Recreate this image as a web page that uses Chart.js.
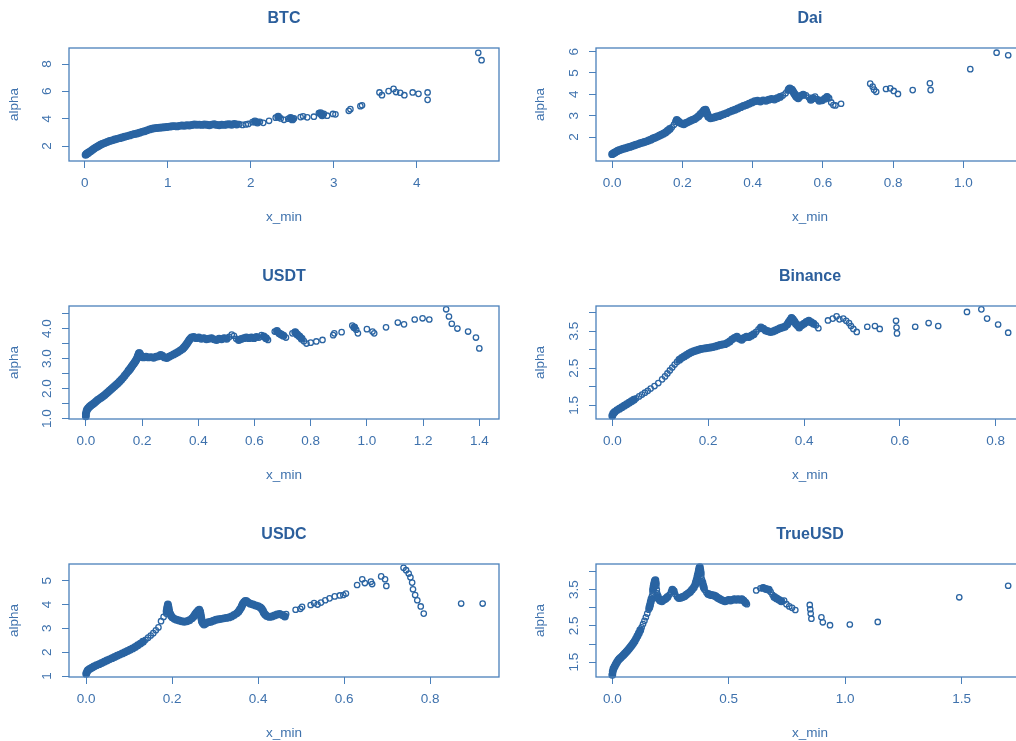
<!DOCTYPE html>
<html>
<head>
<meta charset="utf-8">
<title>alpha vs x_min</title>
<script src="https://cdn.jsdelivr.net/npm/chart.js@4.4.1/dist/chart.umd.min.js"></script>
<style>
  html, body { margin: 0; padding: 0; background: #fff; overflow: hidden; }
  #page { position: relative; width: 1016px; height: 741px; overflow: hidden; }
  #page canvas { position: absolute; }
</style>
</head>
<body>
<div id="page"></div>
<script>
// ---- data: [x_min, alpha] ----
const btcPoints = [
  [0.01,1.36],[0.02,1.42],[0.03,1.46],[0.04,1.50],[0.05,1.55],[0.07,1.63],[0.09,1.72],[0.11,1.80],
  [0.13,1.89],[0.15,1.96],[0.17,2.03],[0.19,2.10],[0.21,2.16],[0.24,2.23],[0.27,2.30],[0.30,2.37],
  [0.33,2.42],[0.36,2.48],[0.39,2.53],[0.42,2.58],[0.45,2.63],[0.48,2.68],[0.51,2.73],[0.54,2.78],
  [0.57,2.84],[0.60,2.88],[0.63,2.92],[0.66,2.97],[0.69,3.04],[0.72,3.09],[0.75,3.15],[0.78,3.22],
  [0.81,3.27],[0.84,3.30],[0.87,3.32],[0.90,3.34],[0.93,3.36],[0.96,3.38],[0.99,3.40],[1.02,3.42],
  [1.05,3.45],[1.08,3.46],[1.11,3.44],[1.14,3.48],[1.17,3.50],[1.20,3.49],[1.23,3.52],[1.26,3.50],
  [1.29,3.54],[1.32,3.58],[1.35,3.56],[1.38,3.57],[1.41,3.55],[1.44,3.58],[1.47,3.56],[1.50,3.52],
  [1.53,3.57],[1.56,3.60],[1.59,3.55],[1.62,3.52],[1.65,3.57],[1.68,3.55],[1.71,3.58],[1.74,3.60],
  [1.77,3.56],[1.80,3.62],[1.83,3.58],[1.86,3.60],[1.90,3.55],[1.94,3.58],[1.97,3.62],[2.02,3.75],
  [2.05,3.80],[2.08,3.72],[2.11,3.78],[2.15,3.70],[2.22,3.85],[2.30,4.08],[2.33,4.15],[2.36,4.02],
  [2.40,3.92],[2.45,4.00],[2.48,4.05],[2.50,3.95],[2.52,4.02],[2.60,4.12],[2.63,4.18],[2.68,4.10],
  [2.76,4.15],[2.82,4.42],[2.84,4.40],[2.86,4.25],[2.88,4.35],[2.92,4.22],[2.99,4.35],[3.02,4.32],
  [3.18,4.58],[3.20,4.70],[3.32,4.92],[3.34,4.98],[3.55,5.92],[3.58,5.72],[3.66,6.02],[3.72,6.18],
  [3.75,5.95],[3.80,5.90],[3.85,5.72],[3.95,5.92],[4.02,5.82],[4.13,5.92],[4.13,5.38],[4.74,8.82],
  [4.78,8.28]
];
const daiPoints = [
  [0.000,1.20],[0.004,1.24],[0.008,1.28],[0.012,1.32],[0.016,1.36],[0.020,1.38],[0.026,1.42],[0.032,1.45],
  [0.038,1.48],[0.044,1.51],[0.050,1.54],[0.056,1.57],[0.062,1.61],[0.068,1.64],[0.074,1.67],[0.080,1.71],
  [0.086,1.74],[0.092,1.77],[0.098,1.80],[0.104,1.84],[0.110,1.88],[0.116,1.93],[0.122,1.97],[0.128,2.01],
  [0.134,2.06],[0.140,2.11],[0.146,2.16],[0.152,2.22],[0.158,2.30],[0.164,2.38],[0.170,2.46],[0.176,2.58],
  [0.180,2.72],[0.184,2.80],[0.188,2.74],[0.192,2.68],[0.198,2.63],[0.204,2.60],[0.210,2.66],[0.216,2.70],
  [0.222,2.75],[0.228,2.80],[0.234,2.84],[0.240,2.90],[0.246,2.98],[0.252,3.08],[0.258,3.18],[0.262,3.26],
  [0.266,3.28],[0.268,3.20],[0.270,3.12],[0.272,3.04],[0.274,2.95],[0.280,2.88],[0.286,2.90],[0.292,2.93],
  [0.298,2.96],[0.304,2.98],[0.310,3.02],[0.318,3.07],[0.326,3.12],[0.334,3.18],[0.342,3.23],[0.350,3.28],
  [0.358,3.34],[0.366,3.40],[0.374,3.46],[0.382,3.50],[0.390,3.56],[0.398,3.62],[0.406,3.68],[0.414,3.70],
  [0.422,3.66],[0.430,3.72],[0.438,3.70],[0.446,3.75],[0.454,3.78],[0.462,3.76],[0.470,3.82],[0.478,3.88],
  [0.486,3.95],[0.494,4.05],[0.500,4.18],[0.503,4.23],[0.506,4.28],[0.512,4.22],[0.515,4.14],[0.518,4.05],
  [0.521,3.98],[0.524,3.90],[0.527,3.86],[0.530,3.82],[0.536,3.92],[0.544,3.98],[0.552,3.95],[0.560,3.85],
  [0.566,3.75],[0.572,3.82],[0.578,3.90],[0.584,3.78],[0.590,3.70],[0.598,3.72],[0.606,3.80],[0.612,3.88],
  [0.618,3.82],[0.624,3.62],[0.630,3.50],[0.636,3.48],[0.652,3.56],
  [0.735,4.50],[0.742,4.36],[0.746,4.22],[0.752,4.12],[0.780,4.25],[0.792,4.28],[0.802,4.16],[0.814,4.02],
  [0.856,4.20],[0.905,4.52],[0.907,4.20],[1.020,5.18],[1.095,5.95],[1.128,5.83]
];
const usdtPoints = [
  [0.000,1.08],[0.000,1.16],[0.002,1.24],[0.004,1.30],[0.008,1.35],[0.013,1.40],[0.018,1.44],[0.024,1.48],
  [0.030,1.52],[0.036,1.57],[0.042,1.62],[0.048,1.66],[0.054,1.70],[0.060,1.74],[0.066,1.78],[0.072,1.83],
  [0.078,1.88],[0.084,1.93],[0.090,1.98],[0.096,2.03],[0.102,2.08],[0.108,2.13],[0.114,2.18],[0.120,2.24],
  [0.126,2.30],[0.132,2.36],[0.138,2.43],[0.144,2.50],[0.150,2.57],[0.153,2.61],[0.156,2.64],[0.159,2.68],
  [0.162,2.72],[0.165,2.76],[0.168,2.80],[0.171,2.84],[0.174,2.88],[0.177,2.92],[0.180,2.97],[0.183,3.03],
  [0.185,3.08],[0.187,3.13],[0.189,3.18],[0.191,3.18],[0.193,3.14],[0.196,3.09],[0.199,3.05],[0.205,3.04],
  [0.214,3.06],[0.223,3.04],[0.232,3.05],[0.241,3.03],[0.250,3.06],[0.259,3.08],[0.266,3.12],[0.272,3.10],
  [0.280,3.04],[0.288,3.02],[0.296,3.06],[0.304,3.10],[0.312,3.14],[0.320,3.18],[0.328,3.22],[0.336,3.27],
  [0.344,3.32],[0.348,3.36],[0.352,3.40],[0.356,3.45],[0.360,3.50],[0.364,3.56],[0.368,3.62],[0.372,3.66],
  [0.376,3.70],[0.384,3.72],[0.393,3.68],[0.402,3.70],[0.411,3.66],[0.420,3.68],[0.429,3.64],[0.438,3.66],
  [0.447,3.68],[0.456,3.64],[0.465,3.62],[0.474,3.66],[0.483,3.64],[0.492,3.68],[0.501,3.66],[0.510,3.72],
  [0.519,3.80],[0.527,3.76],[0.535,3.66],[0.544,3.62],[0.553,3.65],[0.562,3.68],[0.571,3.70],[0.580,3.68],
  [0.589,3.70],[0.598,3.68],[0.607,3.72],[0.616,3.70],[0.625,3.78],[0.633,3.74],[0.641,3.68],[0.648,3.62],
  [0.672,3.90],[0.680,3.92],[0.688,3.84],[0.695,3.80],[0.703,3.76],[0.712,3.70],[0.735,3.84],[0.745,3.88],
  [0.752,3.80],[0.760,3.74],[0.768,3.66],[0.776,3.58],[0.785,3.50],[0.800,3.53],[0.820,3.57],[0.842,3.62],
  [0.880,3.78],[0.884,3.84],[0.910,3.88],[0.948,4.10],[0.955,4.04],[0.962,3.96],[0.968,3.84],[1.000,3.98],
  [1.020,3.90],[1.026,3.84],[1.068,4.04],[1.110,4.20],[1.132,4.14],[1.170,4.30],[1.198,4.34],[1.222,4.30],
  [1.282,4.64],[1.292,4.40],[1.302,4.16],[1.322,4.00],[1.360,3.90],[1.388,3.70],[1.400,3.34]
];
const binancePoints = [
  [0.000,1.22],[0.002,1.28],[0.005,1.32],[0.010,1.37],[0.015,1.41],[0.020,1.45],[0.025,1.49],[0.030,1.53],
  [0.035,1.57],[0.040,1.61],[0.045,1.65],[0.050,1.69],[0.056,1.74],[0.062,1.79],[0.068,1.84],[0.074,1.89],
  [0.080,1.95],[0.088,2.02],[0.096,2.10],[0.104,2.20],[0.110,2.28],[0.115,2.36],[0.120,2.44],[0.125,2.52],
  [0.130,2.60],[0.135,2.67],[0.140,2.73],[0.145,2.78],[0.150,2.82],[0.155,2.86],[0.160,2.90],[0.165,2.93],
  [0.170,2.96],[0.175,2.98],[0.180,3.00],[0.185,3.02],[0.190,3.03],[0.195,3.04],[0.200,3.05],[0.205,3.06],
  [0.210,3.07],[0.215,3.09],[0.220,3.11],[0.225,3.13],[0.230,3.14],[0.235,3.15],[0.240,3.18],[0.245,3.22],
  [0.250,3.28],[0.255,3.32],[0.260,3.35],[0.265,3.30],[0.270,3.27],[0.275,3.32],[0.280,3.35],[0.285,3.34],
  [0.290,3.38],[0.295,3.42],[0.300,3.48],[0.305,3.55],[0.310,3.60],[0.315,3.57],[0.320,3.52],[0.325,3.50],
  [0.330,3.48],[0.335,3.49],[0.340,3.52],[0.345,3.55],[0.350,3.58],[0.355,3.60],[0.360,3.62],[0.365,3.68],
  [0.368,3.74],[0.371,3.80],[0.374,3.86],[0.377,3.82],[0.380,3.76],[0.383,3.70],[0.386,3.66],[0.390,3.60],
  [0.395,3.66],[0.400,3.70],[0.405,3.75],[0.410,3.78],[0.415,3.74],[0.420,3.70],[0.425,3.66],[0.430,3.58],
  [0.450,3.79],[0.460,3.84],[0.468,3.90],[0.474,3.82],[0.482,3.84],[0.488,3.78],[0.494,3.72],[0.498,3.64],
  [0.503,3.56],[0.510,3.48],[0.532,3.62],[0.548,3.64],[0.558,3.56],[0.592,3.78],[0.593,3.60],[0.594,3.44],
  [0.632,3.62],[0.660,3.72],[0.680,3.64],[0.740,4.02],[0.770,4.09],[0.782,3.84],[0.805,3.68],[0.826,3.46]
];
const usdcPoints = [
  [0.000,1.10],[0.002,1.18],[0.004,1.25],[0.008,1.30],[0.013,1.35],[0.018,1.40],[0.024,1.45],[0.030,1.50],
  [0.036,1.55],[0.042,1.60],[0.048,1.65],[0.054,1.70],[0.060,1.75],[0.066,1.80],[0.072,1.85],[0.078,1.90],
  [0.084,1.95],[0.090,2.00],[0.096,2.05],[0.102,2.10],[0.108,2.16],[0.114,2.22],[0.120,2.29],[0.126,2.36],
  [0.132,2.44],[0.138,2.52],[0.144,2.61],[0.150,2.70],[0.156,2.80],[0.162,2.92],[0.168,3.04],[0.174,3.30],
  [0.180,3.48],[0.186,3.62],[0.187,3.72],[0.188,3.82],[0.189,3.92],[0.190,4.00],[0.191,3.92],[0.192,3.82],
  [0.193,3.72],[0.195,3.62],[0.197,3.54],[0.200,3.47],[0.205,3.40],[0.210,3.36],[0.216,3.33],[0.222,3.30],
  [0.228,3.28],[0.234,3.30],[0.240,3.34],[0.246,3.42],[0.250,3.50],[0.253,3.58],[0.256,3.66],[0.260,3.74],
  [0.263,3.78],[0.265,3.70],[0.266,3.60],[0.267,3.50],[0.268,3.40],[0.269,3.30],[0.271,3.22],[0.274,3.16],
  [0.278,3.20],[0.284,3.26],[0.290,3.28],[0.296,3.32],[0.302,3.36],[0.308,3.38],[0.314,3.40],[0.320,3.42],
  [0.326,3.44],[0.332,3.46],[0.338,3.50],[0.344,3.56],[0.350,3.63],[0.354,3.70],[0.357,3.78],[0.360,3.86],
  [0.362,3.94],[0.364,4.02],[0.367,4.10],[0.370,4.15],[0.373,4.14],[0.377,4.08],[0.382,4.03],[0.388,4.00],
  [0.394,3.96],[0.400,3.93],[0.405,3.88],[0.408,3.82],[0.411,3.74],[0.413,3.66],[0.416,3.58],[0.420,3.52],
  [0.426,3.48],[0.432,3.50],[0.438,3.54],[0.444,3.58],[0.450,3.60],[0.456,3.56],[0.462,3.50],[0.465,3.60],
  [0.487,3.78],[0.498,3.82],[0.502,3.90],[0.522,3.98],[0.530,4.06],[0.538,4.00],[0.546,4.08],[0.556,4.18],
  [0.566,4.26],[0.578,4.34],[0.590,4.38],[0.598,4.40],[0.604,4.46],[0.630,4.82],[0.642,5.06],[0.648,4.90],
  [0.662,4.96],[0.665,4.86],[0.686,5.18],[0.695,5.06],[0.698,4.78],[0.738,5.54],[0.744,5.44],[0.750,5.30],
  [0.754,5.14],[0.758,4.92],[0.760,4.64],[0.765,4.40],[0.770,4.18],[0.778,3.92],[0.785,3.62],[0.872,4.04],
  [0.922,4.04]
];
const trueusdPoints = [
  [0.000,1.15],[0.002,1.24],[0.005,1.32],[0.010,1.38],[0.015,1.44],[0.020,1.50],[0.025,1.55],[0.030,1.59],
  [0.036,1.62],[0.042,1.66],[0.048,1.70],[0.054,1.74],[0.060,1.78],[0.066,1.82],[0.072,1.87],[0.078,1.92],
  [0.084,1.97],[0.090,2.02],[0.096,2.08],[0.102,2.15],[0.108,2.22],[0.114,2.30],[0.120,2.38],[0.126,2.46],
  [0.132,2.55],[0.138,2.64],[0.144,2.74],[0.150,2.84],[0.156,2.95],[0.159,3.01],[0.162,3.08],[0.165,3.16],
  [0.168,3.24],[0.170,3.32],[0.173,3.42],[0.175,3.50],[0.177,3.58],[0.179,3.64],[0.181,3.70],[0.183,3.74],
  [0.185,3.76],[0.187,3.68],[0.189,3.60],[0.191,3.50],[0.193,3.40],[0.195,3.32],[0.198,3.26],[0.205,3.20],
  [0.213,3.18],[0.221,3.22],[0.229,3.25],[0.237,3.30],[0.245,3.36],[0.252,3.44],[0.258,3.50],[0.264,3.46],
  [0.270,3.38],[0.278,3.30],[0.286,3.27],[0.294,3.28],[0.302,3.30],[0.310,3.32],[0.318,3.36],[0.326,3.40],
  [0.334,3.44],[0.342,3.50],[0.350,3.56],[0.356,3.64],[0.359,3.70],[0.362,3.76],[0.365,3.84],[0.367,3.90],
  [0.370,3.98],[0.372,4.04],[0.374,4.10],[0.376,4.12],[0.378,4.04],[0.380,3.96],[0.382,3.88],[0.385,3.78],
  [0.387,3.70],[0.390,3.62],[0.393,3.56],[0.396,3.50],[0.404,3.42],[0.412,3.38],[0.420,3.36],[0.428,3.35],
  [0.436,3.34],[0.444,3.32],[0.452,3.28],[0.460,3.25],[0.468,3.22],[0.476,3.20],[0.484,3.18],[0.492,3.20],
  [0.500,3.22],[0.508,3.20],[0.516,3.22],[0.524,3.24],[0.532,3.22],[0.540,3.24],[0.548,3.22],[0.556,3.24],
  [0.564,3.20],[0.572,3.14],[0.578,3.10],
  [0.618,3.48],[0.636,3.54],[0.648,3.55],[0.660,3.52],[0.672,3.50],[0.680,3.44],[0.688,3.36],[0.696,3.30],
  [0.706,3.26],[0.716,3.22],[0.726,3.18],[0.738,3.20],[0.748,3.10],[0.760,3.04],[0.772,3.00],[0.786,2.94],
  [0.848,3.08],[0.850,2.96],[0.852,2.84],[0.855,2.70],[0.898,2.74],[0.904,2.60],[0.935,2.52],[1.020,2.54],
  [1.140,2.61],[1.490,3.29],[1.700,3.61]
];

// ---- tick values and labels ----
const btcXTicks = [0, 1, 2, 3, 4];
const btcXLabels = ['0', '1', '2', '3', '4'];
const btcYTicks = [2, 4, 6, 8];
const btcYLabels = ['2', '4', '6', '8'];
const daiXTicks = [0, 0.2, 0.4, 0.6, 0.8, 1.0];
const daiXLabels = ['0.0', '0.2', '0.4', '0.6', '0.8', '1.0'];
const daiYTicks = [2, 3, 4, 5, 6];
const daiYLabels = ['2', '3', '4', '5', '6'];
const usdtXTicks = [0, 0.2, 0.4, 0.6, 0.8, 1.0, 1.2, 1.4];
const usdtXLabels = ['0.0', '0.2', '0.4', '0.6', '0.8', '1.0', '1.2', '1.4'];
const usdtYTicks = [1, 1.5, 2, 2.5, 3, 3.5, 4, 4.5];
const usdtYLabels = ['1.0', '', '2.0', '', '3.0', '', '4.0', ''];
const binanceXTicks = [0, 0.2, 0.4, 0.6, 0.8];
const binanceXLabels = ['0.0', '0.2', '0.4', '0.6', '0.8'];
const binanceYTicks = [1.5, 2, 2.5, 3, 3.5, 4];
const binanceYLabels = ['1.5', '', '2.5', '', '3.5', ''];
const usdcXTicks = [0, 0.2, 0.4, 0.6, 0.8];
const usdcXLabels = ['0.0', '0.2', '0.4', '0.6', '0.8'];
const usdcYTicks = [1, 2, 3, 4, 5];
const usdcYLabels = ['1', '2', '3', '4', '5'];
const trueusdXTicks = [0, 0.5, 1.0, 1.5];
const trueusdXLabels = ['0.0', '0.5', '1.0', '1.5'];
const trueusdYTicks = [1.5, 2, 2.5, 3, 3.5, 4];
const trueusdYLabels = ['1.5', '', '2.5', '', '3.5', ''];

// ---- styling ----
const BLUE_POINT = '#2a64a2';
const BLUE_BOX = '#4a80bb';
const BLUE_TEXT = '#3f72ad';
const BLUE_TITLE = '#2c5f9c';
const FONT = '"Liberation Sans", Arial, sans-serif';

// panel layout (left column starts at x=0, right column at 508)
const panels = [
  { title: 'BTC', pts: btcPoints, col: 0, row: 0, x: [-0.19, 4.99], y: [0.91, 9.17],
    xt: btcXTicks, xl: btcXLabels, yt: btcYTicks, yl: btcYLabels },
  { title: 'Dai', pts: daiPoints, col: 1, row: 0, x: [-0.046, 1.173], y: [0.88, 6.17],
    xt: daiXTicks, xl: daiXLabels, yt: daiYTicks, yl: daiYLabels },
  { title: 'USDT', pts: usdtPoints, col: 0, row: 1, x: [-0.06, 1.47], y: [0.99, 4.75],
    xt: usdtXTicks, xl: usdtXLabels, yt: usdtYTicks, yl: usdtYLabels },
  { title: 'Binance', pts: binancePoints, col: 1, row: 1, x: [-0.034, 0.859], y: [1.13, 4.18],
    xt: binanceXTicks, xl: binanceXLabels, yt: binanceYTicks, yl: binanceYLabels },
  { title: 'USDC', pts: usdcPoints, col: 0, row: 2, x: [-0.04, 0.96], y: [0.96, 5.7],
    xt: usdcXTicks, xl: usdcXLabels, yt: usdcYTicks, yl: usdcYLabels },
  { title: 'TrueUSD', pts: trueusdPoints, col: 1, row: 2, x: [-0.07, 1.768], y: [1.09, 4.21],
    xt: trueusdXTicks, xl: trueusdXLabels, yt: trueusdYTicks, yl: trueusdYLabels }
];

const ROW_TOP = [0, 258, 516];
const PANEL_H = 258;
const COLS = [
  { left: 0, width: 508, areaLeft: 69, areaRight: 499, alphaPad: 6.6 },
  { left: 508, width: 528, areaLeft: 88, areaRight: 516, alphaPad: 24.6 }
];

// overlapping open circles in R merge into a solid band: fill a point
// when both of its neighbours sit within ~3px on screen
function isDense(ctx) {
  if (ctx.type !== 'data' || ctx.dataIndex == null) return false;
  const xs = ctx.chart.scales.x, ys = ctx.chart.scales.y;
  if (!xs || !ys) return false;
  const data = ctx.dataset.data, i = ctx.dataIndex;
  const px = k => [xs.getPixelForValue(data[k].x), ys.getPixelForValue(data[k].y)];
  const [x0, y0] = px(i);
  let close = 0;
  [i - 1, i + 1].forEach(k => {
    if (k < 0 || k >= data.length) { close++; return; }
    const [x1, y1] = px(k);
    if (Math.hypot(x1 - x0, y1 - y0) < 3.3) close++;
  });
  return close === 2;
}

// R-style box around the plot region plus rotated y tick labels
const rAxes = {
  id: 'rAxes',
  afterDraw(chart, args, opts) {
    const { ctx, chartArea: a } = chart;
    const ys = chart.scales.y;
    ctx.save();
    ctx.strokeStyle = BLUE_BOX;
    ctx.lineWidth = 1.3;
    ctx.strokeRect(a.left, a.top, a.right - a.left, a.bottom - a.top);
    ctx.fillStyle = BLUE_TEXT;
    ctx.font = '13.5px ' + FONT;
    ctx.textAlign = 'center';
    ctx.textBaseline = 'middle';
    opts.ticks.forEach((v, i) => {
      const lab = opts.labels[i];
      if (!lab) return;
      ctx.save();
      ctx.translate(a.left - 22, ys.getPixelForValue(v));
      ctx.rotate(-Math.PI / 2);
      ctx.fillText(lab, 0, 0);
      ctx.restore();
    });
    ctx.restore();
  }
};

const page = document.getElementById('page');

panels.forEach(p => {
  const c = COLS[p.col];
  const canvas = document.createElement('canvas');
  canvas.width = c.width;
  canvas.height = PANEL_H;
  canvas.style.left = c.left + 'px';
  canvas.style.top = ROW_TOP[p.row] + 'px';
  canvas.style.width = c.width + 'px';
  canvas.style.height = PANEL_H + 'px';
  page.appendChild(canvas);

  new Chart(canvas.getContext('2d'), {
    type: 'scatter',
    data: {
      datasets: [{
        data: p.pts.map(d => ({ x: d[0], y: d[1] })),
        pointStyle: 'circle',
        pointRadius: ctx => isDense(ctx) ? 3.3 : 2.7,
        pointBorderWidth: 1.3,
        borderColor: BLUE_POINT,
        backgroundColor: ctx => isDense(ctx) ? BLUE_POINT : 'rgba(255,255,255,0)',
        clip: 10
      }]
    },
    options: {
      responsive: false,
      animation: false,
      events: [],
      devicePixelRatio: 1,
      layout: { padding: { left: 0, right: c.width - c.areaRight, top: 0, bottom: 0 } },
      plugins: {
        legend: { display: false },
        tooltip: { enabled: false },
        title: {
          display: true,
          text: p.title,
          fullSize: false,
          color: BLUE_TITLE,
          font: { family: FONT, size: 16, weight: 'bold' },
          padding: { top: 9, bottom: 19.8 }
        },
        rAxes: { ticks: p.yt, labels: p.yl }
      },
      scales: {
        x: {
          type: 'linear',
          min: p.x[0],
          max: p.x[1],
          afterBuildTicks: s => { s.ticks = p.xt.map(v => ({ value: v })); },
          afterFit: s => { s.height = PANEL_H - 161; },
          ticks: {
            autoSkip: false, maxRotation: 0, minRotation: 0, padding: 7,
            color: BLUE_TEXT, font: { family: FONT, size: 13.5 },
            callback: (v, i) => p.xl[i]
          },
          grid: { drawOnChartArea: false, drawTicks: true, tickLength: 7, color: BLUE_BOX, lineWidth: 1 },
          border: { display: false },
          title: {
            display: true, text: 'x_min', color: BLUE_TEXT,
            font: { family: FONT, size: 13.5 }, padding: { top: 0, bottom: 33 }
          }
        },
        y: {
          type: 'linear',
          min: p.y[0],
          max: p.y[1],
          afterBuildTicks: s => { s.ticks = p.yt.map(v => ({ value: v })); },
          afterFit: s => { s.width = c.areaLeft; },
          ticks: { display: false },
          grid: { drawOnChartArea: false, drawTicks: true, tickLength: 7, color: BLUE_BOX, lineWidth: 1 },
          border: { display: false },
          title: {
            display: true, text: 'alpha', color: BLUE_TEXT,
            font: { family: FONT, size: 13.5 }, padding: { top: c.alphaPad, bottom: 0 }
          }
        }
      }
    },
    plugins: [rAxes]
  });
});
</script>
</body>
</html>
